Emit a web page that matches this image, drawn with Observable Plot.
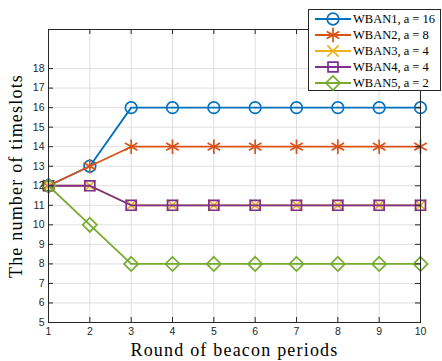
<!DOCTYPE html>
<html>
<head>
<meta charset="utf-8">
<script src="https://cdn.jsdelivr.net/npm/d3@7"></script>
<script src="https://cdn.jsdelivr.net/npm/@observablehq/plot@0.6"></script>
<style>
  html, body { margin: 0; padding: 0; background: #fff; }
  #wrap { position: relative; width: 442px; height: 361px; overflow: hidden; }
  #legend { position: absolute; left: 308px; top: 9px; width: 133px; height: 82px;
    border: 1px solid #262626; background: #fff; box-sizing: border-box; }
  .row { position: absolute; left: 0; height: 16px; display: flex; align-items: center; }
  .row span { font-family: "Liberation Serif", serif; font-size: 12.5px; color: #000; margin-left: 0px; white-space: nowrap; }
</style>
</head>
<body>
<div id="wrap"><div id="legend"></div></div>
<script>
const rounds = [1, 2, 3, 4, 5, 6, 7, 8, 9, 10];
const yTicks = [5, 6, 7, 8, 9, 10, 11, 12, 13, 14, 15, 16, 17, 18];
const seriesNames = ["WBAN1, a = 16", "WBAN2, a = 8", "WBAN3, a = 4", "WBAN4, a = 4", "WBAN5, a = 2"];
const wban1 = [12, 13, 16, 16, 16, 16, 16, 16, 16, 16];
const wban2 = [12, 13, 14, 14, 14, 14, 14, 14, 14, 14];
const wban3 = [12, 12, 11, 11, 11, 11, 11, 11, 11, 11];
const wban4 = [12, 12, 11, 11, 11, 11, 11, 11, 11, 11];
const wban5 = [12, 10, 8, 8, 8, 8, 8, 8, 8, 8];
const colors = ["#0072BD", "#D95319", "#EDB120", "#7E2F8E", "#77AC30"];
const symbols = ["circle", "asterisk", "times", "square", "diamond2"];
const d3Symbols = [d3.symbolCircle, d3.symbolAsterisk, d3.symbolTimes, d3.symbolSquare, d3.symbolDiamond2];
const radii = [5.8, 6.8, 5.2, 5.6, 6.4];
const allSeries = [wban1, wban2, wban3, wban4, wban5];

const W = 442, H = 361;
const mL = 48, mR = 22, mT = 29, mB = 39;
const innerW = W - mL - mR, innerH = H - mT - mB;
const axisColor = "#262626";

const marks = [
  Plot.gridX(rounds, {stroke: "#dfdfdf", strokeOpacity: 1}),
  Plot.gridY(yTicks, {stroke: "#dfdfdf", strokeOpacity: 1}),
];
allSeries.forEach((vals, i) => {
  const data = rounds.map((r, j) => ({x: r, y: vals[j]}));
  marks.push(Plot.line(data, {x: "x", y: "y", stroke: colors[i], strokeWidth: 1.8}));
  marks.push(Plot.dot(data, {x: "x", y: "y", stroke: colors[i], symbol: symbols[i], r: radii[i], strokeWidth: 1.7, fill: "none"}));
});
marks.push(
  Plot.frame({stroke: axisColor, strokeWidth: 1}),
  Plot.tickX(rounds, {x: d => d, insetTop: innerH - 5, stroke: axisColor}),
  Plot.tickX(rounds, {x: d => d, insetBottom: innerH - 5, stroke: axisColor}),
  Plot.tickY(yTicks, {y: d => d, insetRight: innerW - 5, stroke: axisColor}),
  Plot.tickY(yTicks, {y: d => d, insetLeft: innerW - 5, stroke: axisColor}),
  Plot.axisX(rounds, {tickSize: 0, tickPadding: 5, fontSize: 10.5, fill: axisColor, label: null, fontFamily: "Liberation Sans"}),
  Plot.axisY(yTicks, {tickSize: 0, tickPadding: 4, fontSize: 10.5, fill: axisColor, label: null, fontFamily: "Liberation Sans"}),
  Plot.text(["Round of beacon periods"], {frameAnchor: "bottom", dy: 28, fontSize: 18, fontFamily: "Liberation Serif", fill: "#000", lineAnchor: "middle", textAnchor: "middle", text: d => d}),
  Plot.text(["The number of timeslots"], {frameAnchor: "left", dx: -32, rotate: -90, fontSize: 18, fontFamily: "Liberation Serif", fill: "#000", lineAnchor: "middle", textAnchor: "middle", text: d => d})
);

const chart = Plot.plot({
  width: W, height: H,
  marginLeft: mL, marginRight: mR, marginTop: mT, marginBottom: mB,
  x: {domain: [1, 10]},
  y: {domain: [5, 20]},
  style: {background: "#fff", overflow: "visible"},
  marks
});
chart.querySelectorAll("text").forEach(t => {
  if (t.textContent.length > 15) t.style.letterSpacing = "1.2px";
});
document.getElementById("wrap").prepend(chart);

// legend
const legend = d3.select("#legend");
seriesNames.forEach((name, i) => {
  const row = legend.append("div").attr("class", "row").style("top", (1 + i * 16) + "px");
  const svg = row.append("svg").attr("width", 44).attr("height", 16);
  svg.append("line").attr("x1", 6).attr("x2", 42).attr("y1", 8).attr("y2", 8)
    .attr("stroke", colors[i]).attr("stroke-width", 1.8);
  svg.append("path").attr("transform", "translate(24,8)")
    .attr("d", d3.symbol(d3Symbols[i], Math.PI * radii[i] * radii[i])())
    .attr("fill", "none").attr("stroke", colors[i]).attr("stroke-width", 1.7);
  row.append("span").text(name);
});
</script>
</body>
</html>
